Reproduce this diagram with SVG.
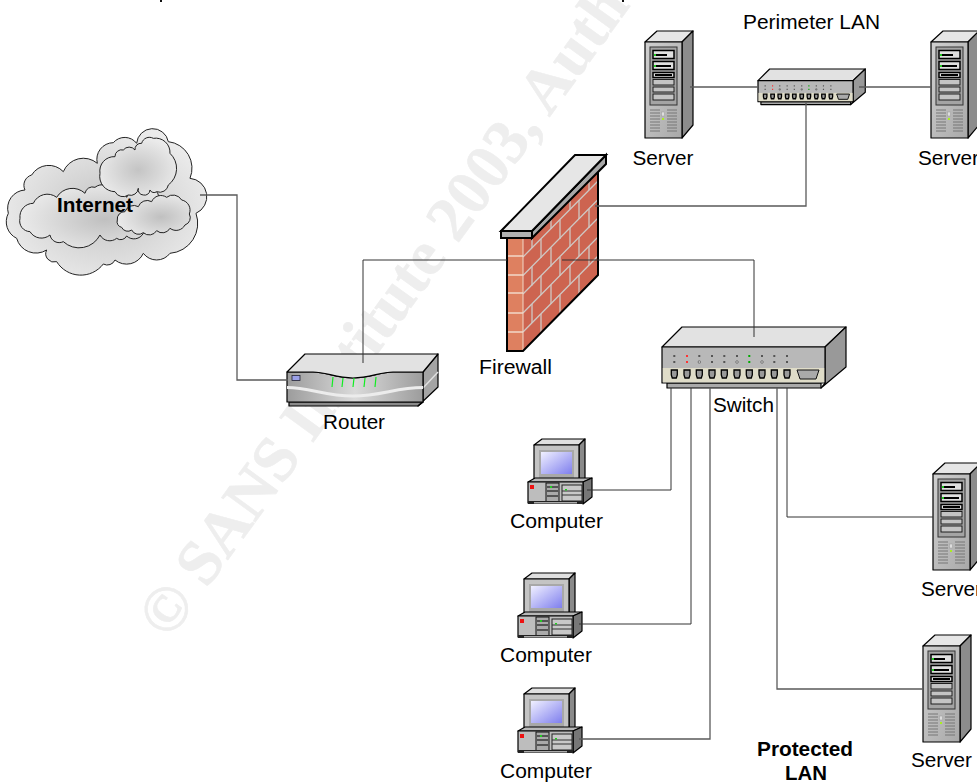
<svg xmlns="http://www.w3.org/2000/svg" xmlns:xlink="http://www.w3.org/1999/xlink" width="977" height="782" viewBox="0 0 977 782">
<style>
text{font-family:"Liberation Sans",Arial,sans-serif;font-size:19.5px;fill:#000}
.b{font-weight:bold}
.wm{font-family:"Liberation Serif","Times New Roman",serif;font-weight:bold;font-size:64px;fill:#eeeeee;stroke:#eeeeee;stroke-width:.6}
.c{fill:none;stroke:#333;stroke-width:1}
.g{fill:none;stroke:#5a5a5a;stroke-width:1.3}
.o{stroke:#000;stroke-width:1.2;stroke-linejoin:round}
.cl{stroke:#222;stroke-width:1;vector-effect:non-scaling-stroke}
.thick{stroke:#000;stroke-width:2;stroke-linejoin:miter}
.bay{fill:#c4c4c4;stroke:#111;stroke-width:.9}
.dbay{fill:#e0e0e0;stroke:#000;stroke-width:1.5}
.vent{stroke:#777;stroke-width:1;fill:none}
.sw *{vector-effect:non-scaling-stroke}
</style>
<defs>
<linearGradient id="gf" x1="0" x2="1" y1="0" y2="1"><stop offset="0" stop-color="#d0d0d0"/><stop offset="1" stop-color="#a8a8a8"/></linearGradient>
<linearGradient id="gs" x1="0" x2="1" y1="0" y2="1"><stop offset="0" stop-color="#f0f0ff"/><stop offset="1" stop-color="#7f7fee"/></linearGradient>
<linearGradient id="gr" x1="0" x2="1" y1="0" y2="0"><stop offset="0" stop-color="#9c9c9c"/><stop offset=".5" stop-color="#dadada"/><stop offset="1" stop-color="#9c9c9c"/></linearGradient>
<radialGradient id="gc" cx=".5" cy=".55" r=".55"><stop offset="0" stop-color="#c4c4c4"/><stop offset="1" stop-color="#ebebeb"/></radialGradient>
<radialGradient id="gc2" cx=".6" cy=".55" r=".6"><stop offset="0" stop-color="#c0c0c0"/><stop offset="1" stop-color="#eaeaea"/></radialGradient>
<g id="srv">
<polygon class="o" points="0,11 12,0 48,0 37,11" fill="#e6e6e6"/>
<polygon class="o" points="37,11 48,0 48,94 37,107" fill="#8c8c8c"/>
<rect class="o" x="0" y="11" width="37" height="96" fill="url(#gf)" stroke-width="1.5"/>
<rect x="5" y="16" width="27" height="58" fill="#a4a4a4" stroke="#333"/>
<rect class="dbay" x="8" y="19.5" width="21" height="8"/>
<rect class="dbay" x="8" y="30.5" width="21" height="8"/>
<rect class="dbay" x="8" y="41.5" width="21" height="5" fill="#333"/>
<path d="M10 24h12M10 35h16M10 44h17" stroke="#000" stroke-width="2" fill="none"/>
<rect class="bay" x="8" y="48.5" width="21" height="5.5"/>
<rect class="bay" x="8" y="56" width="21" height="5"/>
<rect class="bay" x="8" y="63" width="21" height="6"/>
<rect x="9" y="23" width="2" height="2" fill="#2c2"/><rect x="9" y="34" width="2" height="2" fill="#2c2"/>
<path class="vent" d="M5 79h10M5 82h10M5 85h10M5 88h10M5 91h10M5 94h10M5 97h10M5 100h10M22 79h10M22 82h10M22 85h10M22 88h10M22 91h10M22 94h10M22 97h10M22 100h10"/>
<rect x="16.500" y="81" width="3" height="4" fill="#ddd" stroke="#999" stroke-width=".5"/>
<rect x="17" y="87" width="2" height="2" fill="#ae2"/>
</g>
<g id="pc">
<polygon class="o" points="6,6 14,0 57,0 51,6" fill="#e0e0e0" stroke-width="1.8"/>
<polygon class="o" points="57,0 57,39 51,43 51,6" fill="#8a8a8a" stroke-width="1.8"/>
<rect class="o" x="6" y="6" width="45" height="38" fill="#c4c4c4" stroke-width="1.8"/>
<rect x="11" y="11" width="35" height="28" fill="#a8a8a8"/>
<rect x="13" y="13" width="31" height="22" fill="url(#gs)"/>
<rect x="47" y="40" width="3" height="2" fill="#2c2"/>
<polygon class="o" points="0,43 7,39 64,39 55,43" fill="#b8b8b8"/>
<polygon class="o" points="55,43 64,39 64,58 55,65" fill="#777"/>
<rect class="o" x="0" y="43" width="55" height="21" fill="#bdbdbd" stroke-width="1.500"/>
<rect x="2" y="46" width="4" height="4" fill="#e11"/>
<rect x="18" y="44" width="13" height="19" fill="#aaa" stroke="#111"/>
<path d="M19 48h11M19 52h11M19 57h11" stroke="#000" fill="none"/>
<rect x="34" y="46" width="20" height="16" fill="#c8c8c8" stroke="#222"/>
<path d="M34 52h20M34 56h20" stroke="#333" fill="none"/>
<rect x="0" y="62" width="55" height="3" fill="#222"/>
<rect x="6" y="63" width="43" height="1.500" fill="#aaa"/>
<rect x="22" y="47" width="2" height="2" fill="#2c2"/><rect x="37" y="50" width="2" height="1.500" fill="#2c2"/>
</g>
<g id="sw" class="sw">
<polygon class="o" points="0,20 20,0 184,0 163,20" fill="#e2e2e2"/>
<polygon class="o" points="163,20 184,0 184,40 159,61 163,56" fill="#999"/>
<rect class="o" x="5" y="56" width="154" height="5" fill="#aaa"/>
<rect class="o" x="0" y="20" width="163" height="36" fill="#b8b8b8" stroke-width="1.5"/>
<rect x="0.800" y="41" width="161.400" height="14.300" fill="#dfdcc8"/>
<path fill="#555" d="M11.300 28h2v2h-2zM36.300 28h2v2h-2zM49 28h2v2h-2zM61.300 28h2v2h-2zM74 28h2v2h-2zM99 28h2v2h-2zM111.300 28h2v2h-2zM124 28h2v2h-2zM11.300 34h2v2h-2zM49 34h2v2h-2zM61.300 34h2v2h-2zM111.300 34h2v2h-2zM124 34h2v2h-2z"/>
<path fill="#f33" d="M24 28h2v2h-2zM24 34h2v2h-2z"/>
<path fill="#0a0" d="M86.300 28h2v2h-2zM86.300 34h2v2h-2z"/>
<path fill="#fff" stroke="#222" stroke-width=".5" d="M36.300 34h2v2h-2zM74 34h2v2h-2zM99 34h2v2h-2z"/>
<path fill="#999" stroke="#000" stroke-width="1.300" d="M9.300 43h6v5l-1 3h-4l-1-3zM22 43h6v5l-1 3h-4l-1-3zM34.300 43h6v5l-1 3h-4l-1-3zM47 43h6v5l-1 3h-4l-1-3zM59.300 43h6v5l-1 3h-4l-1-3zM72 43h6v5l-1 3h-4l-1-3zM84.300 43h6v5l-1 3h-4l-1-3zM97 43h6v5l-1 3h-4l-1-3zM109.300 43h6v5l-1 3h-4l-1-3zM122 43h6v5l-1 3h-4l-1-3z"/>
<polygon points="135,43 157,43 154,52 138,52" fill="#aaa" stroke="#111"/>
</g>
</defs>

<rect width="977" height="782" fill="#fff"/>
<text class="wm" x="169" y="641" transform="rotate(-54 169 641)">© SANS Institute 2003, Auth</text>
<rect x="160" y="0" width="2" height="2" fill="#111"/>
<rect x="622" y="0" width="2" height="2" fill="#111"/>

<g id="internet">
<g transform="translate(0 110) scale(.3333)">
<path class="cl" fill="url(#gc)" d="M25 310A55 55 0 0 1 75 240A32 32 0 0 1 95 195A60 60 0 0 1 190 185A65 65 0 0 1 292 160A50 50 0 0 1 340 98A45 45 0 0 1 410 100A48 48 0 0 1 505 95A80 80 0 0 1 570 205A55 55 0 0 1 588 310A90 90 0 0 1 510 430A50 50 0 0 1 430 430A55 55 0 0 1 345 450A25 25 0 0 1 310 462A85 85 0 0 1 170 455A25 25 0 0 1 140 420A60 60 0 0 1 50 385A55 55 0 0 1 25 310Z"/>
<path class="cl" fill="url(#gc2)" d="M60 325A40 40 0 0 1 100 280A46 46 0 0 1 170 262A55 55 0 0 1 255 250A23 23 0 0 1 285 232A36 36 0 0 1 340 245A28 28 0 0 1 380 262A55 55 0 0 1 460 240A20 20 0 0 1 475 265A70 70 0 0 1 430 370A32 32 0 0 1 380 378A20 20 0 0 1 350 385A33 33 0 0 1 300 375A70 70 0 0 1 190 395A28 28 0 0 1 150 375A40 40 0 0 1 90 365A32 32 0 0 1 60 325Z"/>
<path class="cl" fill="url(#gc)" d="M300 190A43 43 0 0 1 345 140A20 20 0 0 1 370 120A22 22 0 0 1 405 120A18 18 0 0 1 425 100A24 24 0 0 1 460 85A43 43 0 0 1 510 130A62 62 0 0 1 505 225A26 26 0 0 1 470 245A13 13 0 0 1 450 240A16 16 0 0 1 430 255A16 16 0 0 1 415 235A23 23 0 0 1 385 255A27 27 0 0 1 345 245A46 46 0 0 1 300 190Z"/>
<path class="cl" fill="url(#gc2)" d="M352 330A22 22 0 0 1 375 305A28 28 0 0 1 415 290A28 28 0 0 1 455 275A30 30 0 0 1 500 262A30 30 0 0 1 545 270A31 31 0 0 1 568 312A23 23 0 0 1 555 345A30 30 0 0 1 510 355A26 26 0 0 1 470 362A26 26 0 0 1 430 368A23 23 0 0 1 395 360A20 20 0 0 1 365 352A17 17 0 0 1 352 330Z"/>
</g>
</g>

<g id="firewall">
<polygon points="523,238 598,170 598,275 523,351" fill="#cd6450"/>
<g fill="none" stroke="#cfc8c4" stroke-width="1.300">
<path d="M523 257L598 181M523 275.500L598 199.500M523 294L598 218M523 313L598 237M523 332L598 256"/>
<path d="M532 229v19M551 210v19M570 190v19M589 171v19M541 239v19M560 220v19M579 200v19M532 266.500v19M551 247.500v19M570 228v19M589 209v19M541 276v19M560 257v19M579 237v19M532 304v19M551 285v19M570 265v19M589 246v19M541 314v19M560 295v19M579 275v19"/>
</g>
<rect x="507" y="238" width="16" height="113" fill="#de8060"/>
<path d="M507 256h16M507 275h16M507 293h16M507 313h16M507 332h16" stroke="#f2d8c8" stroke-width="1.300" fill="none"/>
<path d="M523 238V351" stroke="#f2d8c8" stroke-width="1" fill="none"/>
<path class="thick" fill="none" stroke-width="2.200" d="M507 238V351H523L598 275V170"/>
<polygon class="thick" points="532,231 606,155 606,164 532,238" fill="#a8a8a8"/>
<polygon class="thick" points="501,231 532,231 532,238 501,238" fill="#b0b0b0"/>
<polygon class="thick" points="501,231 575,155 606,155 532,231" fill="#e6e6e6"/>
<text x="479" y="374" textLength="73" lengthAdjust="spacingAndGlyphs">Firewall</text>
</g>

<g id="router">
<path class="o" fill="#8a8a8a" d="M289 402V406H418L423 402Z"/>
<polygon class="o" points="423,372 438,354 438,387 418,406 423,402" fill="#a4a4a4"/>
<path d="M423 388L438 372" stroke="#e0e0e0" stroke-width="1.500" fill="none"/>
<path class="o" fill="url(#gr)" d="M287 372H313C326 372 336 378 353 378C370 378 380 372 393 372H423V402H287Z"/>
<path class="o" fill="#e2e2e2" d="M287 372L305 354H438L423 372H393C380 372 370 378 353 378C336 378 326 372 313 372Z"/>
<path d="M287 387.500C310 387.500 325 396 353 396C381 396 396 387.500 423 387.500" stroke="#ececec" stroke-width="3" fill="none"/>
<rect x="292" y="375.500" width="8" height="5" fill="#9aa0e8" stroke="#223" stroke-width=".8"/>
<path d="M332 387L333 377M342 387L343 378M353 387L354 378M364 387L365 378M375 387L376 377" stroke="#1e2" stroke-width="1.200" fill="none"/>
<text x="323" y="429" textLength="62" lengthAdjust="spacingAndGlyphs">Router</text>
</g>

<g id="switch">
<use href="#sw" xlink:href="#sw" transform="translate(662 327)"/>
<text x="713" y="412" textLength="61" lengthAdjust="spacingAndGlyphs">Switch</text>
</g>

<g id="perimeter-switch">
<use href="#sw" xlink:href="#sw" transform="translate(758 69) scale(.583)"/>
<text x="743" y="28.500" textLength="137" lengthAdjust="spacingAndGlyphs">Perimeter LAN</text>
</g>

<g id="server-1"><use href="#srv" xlink:href="#srv" x="645" y="31"/><text x="632.500" y="165" textLength="61" lengthAdjust="spacingAndGlyphs">Server</text></g>
<g id="server-2"><use href="#srv" xlink:href="#srv" x="931" y="31"/><text x="918" y="165" textLength="61" lengthAdjust="spacingAndGlyphs">Server</text></g>
<g id="server-3"><use href="#srv" xlink:href="#srv" x="933" y="463"/><text x="921" y="596" textLength="61" lengthAdjust="spacingAndGlyphs">Server</text></g>
<g id="server-4"><use href="#srv" xlink:href="#srv" x="923" y="635"/><text x="911" y="767" textLength="61" lengthAdjust="spacingAndGlyphs">Server</text></g>

<g id="computer-1"><use href="#pc" xlink:href="#pc" x="528" y="439"/><text x="510" y="528" textLength="93" lengthAdjust="spacingAndGlyphs">Computer</text></g>
<g id="computer-2"><use href="#pc" xlink:href="#pc" x="518" y="573"/><text x="500" y="662" textLength="92" lengthAdjust="spacingAndGlyphs">Computer</text></g>
<g id="computer-3"><use href="#pc" xlink:href="#pc" x="518" y="688"/><text x="500" y="778" textLength="92" lengthAdjust="spacingAndGlyphs">Computer</text></g>

<g id="connectors">
<path class="g" d="M200 195H237V380H288"/>
<path class="c" d="M363 363V260H507"/>
<path class="c" d="M562 260H754V337"/>
<path class="g" d="M595 206H806V102"/>
<path class="g" d="M690 87H758"/>
<path class="g" d="M859 87H931"/>
<path class="c" d="M671 388V490H587"/>
<path class="c" d="M691 388V624H579"/>
<path class="g" d="M710 388V739H579"/>
<path class="c" d="M787 388V517H933"/>
<path class="g" d="M777 388V689H923"/>
</g>

<text id="internet-label" class="b" x="57" y="212" textLength="76" lengthAdjust="spacingAndGlyphs">Internet</text>
<g id="protected-lan">
<text class="b" x="757" y="756" textLength="96" lengthAdjust="spacingAndGlyphs">Protected</text>
<text class="b" x="785" y="780" textLength="42" lengthAdjust="spacingAndGlyphs">LAN</text>
</g>
</svg>
